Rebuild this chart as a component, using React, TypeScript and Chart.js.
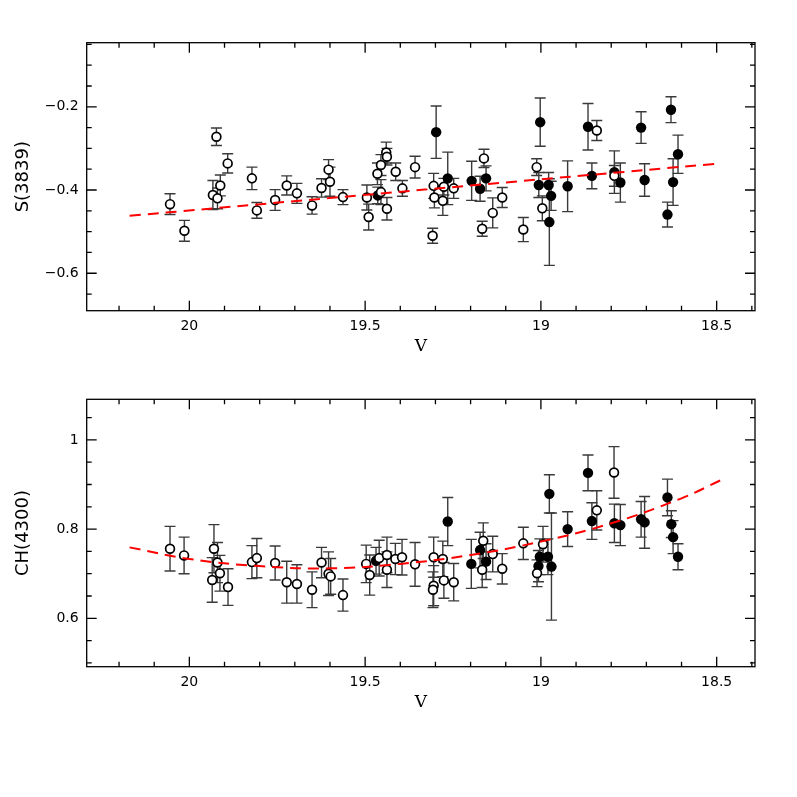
import React, { useEffect, useRef } from "react";
import { Chart, registerables } from "chart.js";
Chart.register(...registerables);

// ---------- data ----------
const X_MIN = 18.391;
const X_MAX = 20.292;
const X_TICKS = [20, 19.5, 19, 18.5];
const X_TITLE = "V";

const TOP_Y_MIN = -0.69;
const TOP_Y_MAX = -0.046;
const TOP_Y_TICKS = [-0.6, -0.4, -0.2];
const TOP_Y_TITLE = "S(3839)";

const BOT_Y_MIN = 0.4915;
const BOT_Y_MAX = 1.091;
const BOT_Y_TICKS = [0.6, 0.8, 1];
const BOT_Y_TITLE = "CH(4300)";

// S(3839) open symbols
const TOP_OPEN_V = [20.055, 20.014, 19.923, 19.891, 19.933, 19.912, 19.92, 19.822, 19.808, 19.756, 19.723, 19.694, 19.651, 19.624, 19.604, 19.6, 19.563, 19.495, 19.49, 19.465, 19.455, 19.455, 19.44, 19.438, 19.438, 19.413, 19.394, 19.358, 19.305, 19.303, 19.308, 19.279, 19.276, 19.248, 19.162, 19.167, 19.137, 19.11, 19.05, 19.012, 18.996, 18.841, 18.791];
const TOP_OPEN_S = [-0.434, -0.498, -0.272, -0.336, -0.412, -0.389, -0.42, -0.372, -0.449, -0.424, -0.389, -0.408, -0.437, -0.395, -0.351, -0.38, -0.417, -0.418, -0.465, -0.361, -0.405, -0.34, -0.31, -0.32, -0.445, -0.356, -0.396, -0.345, -0.39, -0.418, -0.51, -0.426, -0.392, -0.396, -0.324, -0.493, -0.455, -0.418, -0.495, -0.345, -0.444, -0.257, -0.366];
const TOP_OPEN_ERR = [0.025, 0.025, 0.021, 0.023, 0.035, 0.025, 0.025, 0.027, 0.019, 0.025, 0.023, 0.024, 0.021, 0.022, 0.024, 0.035, 0.018, 0.03, 0.031, 0.026, 0.03, 0.025, 0.025, 0.02, 0.027, 0.021, 0.019, 0.026, 0.03, 0.025, 0.018, 0.035, 0.02, 0.024, 0.022, 0.018, 0.036, 0.024, 0.029, 0.02, 0.03, 0.024, 0.025];

// S(3839) filled symbols
const TOP_FILL_V = [19.464, 19.298, 19.265, 19.197, 19.173, 19.156, 19.002, 19.006, 18.978, 18.971, 18.976, 18.924, 18.866, 18.855, 18.791, 18.774, 18.715, 18.705, 18.63, 18.61, 18.624, 18.64];
const TOP_FILL_S = [-0.413, -0.261, -0.372, -0.378, -0.397, -0.372, -0.237, -0.388, -0.388, -0.414, -0.477, -0.391, -0.248, -0.366, -0.357, -0.382, -0.25, -0.376, -0.207, -0.314, -0.381, -0.459];
const TOP_FILL_ERR = [0.02, 0.063, 0.063, 0.047, 0.03, 0.03, 0.058, 0.03, 0.03, 0.035, 0.104, 0.061, 0.056, 0.031, 0.051, 0.047, 0.038, 0.039, 0.031, 0.046, 0.056, 0.03];

// CH(4300) open symbols
const BOT_OPEN_V = [20.055, 20.015, 19.93, 19.92, 19.935, 19.913, 19.89, 19.822, 19.808, 19.756, 19.723, 19.694, 19.651, 19.624, 19.604, 19.598, 19.563, 19.497, 19.487, 19.46, 19.438, 19.438, 19.414, 19.395, 19.358, 19.305, 19.305, 19.307, 19.279, 19.276, 19.248, 19.164, 19.167, 19.137, 19.11, 19.05, 19.011, 18.994, 18.841, 18.792];
const BOT_OPEN_CH = [0.756, 0.741, 0.756, 0.725, 0.686, 0.701, 0.67, 0.726, 0.735, 0.724, 0.681, 0.677, 0.664, 0.725, 0.7, 0.694, 0.652, 0.722, 0.697, 0.735, 0.742, 0.709, 0.733, 0.737, 0.721, 0.737, 0.673, 0.664, 0.733, 0.685, 0.681, 0.774, 0.709, 0.744, 0.711, 0.768, 0.701, 0.766, 0.842, 0.927];
const BOT_OPEN_ERR = [0.05, 0.041, 0.054, 0.045, 0.05, 0.04, 0.041, 0.037, 0.044, 0.038, 0.047, 0.043, 0.04, 0.034, 0.049, 0.04, 0.036, 0.042, 0.045, 0.04, 0.04, 0.04, 0.035, 0.04, 0.049, 0.045, 0.045, 0.04, 0.04, 0.04, 0.042, 0.04, 0.04, 0.04, 0.034, 0.036, 0.03, 0.04, 0.044, 0.058];

// CH(4300) filled symbols
const BOT_FILL_V = [19.469, 19.265, 19.198, 19.173, 19.156, 18.976, 19.003, 19.007, 18.98, 18.97, 18.924, 18.866, 18.855, 18.791, 18.774, 18.715, 18.705, 18.64, 18.629, 18.624, 18.61];
const BOT_FILL_CH = [0.729, 0.817, 0.722, 0.753, 0.727, 0.879, 0.738, 0.717, 0.738, 0.716, 0.8, 0.926, 0.818, 0.813, 0.809, 0.822, 0.815, 0.871, 0.811, 0.782, 0.738];
const BOT_FILL_ERR = [0.03, 0.054, 0.055, 0.04, 0.04, 0.043, 0.04, 0.035, 0.04, 0.12, 0.039, 0.04, 0.041, 0.043, 0.046, 0.04, 0.058, 0.041, 0.03, 0.037, 0.029];

// fitted relations (red dashed)
const FIT_TOP_V = [20.17, 18.49];
const FIT_TOP_S = [-0.462, -0.336];
const FIT_BOT_V = [20.17, 20.0, 19.8, 19.6, 19.4, 19.2, 19.0, 18.8, 18.6, 18.49];
const FIT_BOT_CH = [0.759, 0.733, 0.717, 0.712, 0.722, 0.742, 0.772, 0.813, 0.869, 0.909];

// ---------- helpers ----------
const pts = (xs: number[], ys: number[]) => xs.map((x, i) => ({ x, y: ys[i] }));
const fmtNum = (v: number) => {
  const r = Math.round(v * 100) / 100;
  const s = String(Math.abs(r));
  return (r < 0 ? "\u2212" : "") + s;
};

const TICK_FONT = "DejaVu Sans";

function makePlugin(yTitle: string, yMinor: number, yMajor: number) {
  return {
    id: "frameAndErrors",
    beforeDatasetsDraw(chart: any) {
      const ctx = chart.ctx;
      const xs = chart.scales.x;
      const ys = chart.scales.y;
      ctx.save();
      ctx.strokeStyle = "#3a3a3a";
      ctx.lineWidth = 1.4;
      chart.data.datasets.forEach((ds: any) => {
        if (!ds.errors) return;
        ds.data.forEach((p: any, i: number) => {
          const e = ds.errors[i];
          const px = xs.getPixelForValue(p.x);
          const y1 = ys.getPixelForValue(p.y - e);
          const y2 = ys.getPixelForValue(p.y + e);
          ctx.beginPath();
          ctx.moveTo(px, y1);
          ctx.lineTo(px, y2);
          ctx.moveTo(px - 5.5, y1);
          ctx.lineTo(px + 5.5, y1);
          ctx.moveTo(px - 5.5, y2);
          ctx.lineTo(px + 5.5, y2);
          ctx.stroke();
        });
      });
      ctx.restore();
    },
    afterDraw(chart: any) {
      const ctx = chart.ctx;
      const a = chart.chartArea;
      const xs = chart.scales.x;
      const ys = chart.scales.y;
      ctx.save();
      ctx.strokeStyle = "#000";
      ctx.lineWidth = 1.3;
      ctx.strokeRect(a.left, a.top, a.right - a.left, a.bottom - a.top);
      ctx.beginPath();
      // x ticks
      const xStart = Math.ceil(X_MIN / 0.1 - 1e-6);
      const xEnd = Math.floor(X_MAX / 0.1 + 1e-6);
      for (let k = xStart; k <= xEnd; k++) {
        const v = k * 0.1;
        const major = Math.abs(v / 0.5 - Math.round(v / 0.5)) < 1e-6;
        const len = major ? 10 : 5;
        const px = xs.getPixelForValue(v);
        ctx.moveTo(px, a.bottom);
        ctx.lineTo(px, a.bottom - len);
        ctx.moveTo(px, a.top);
        ctx.lineTo(px, a.top + len);
      }
      // y ticks
      const yStart = Math.ceil(ys.min / yMinor - 1e-6);
      const yEnd = Math.floor(ys.max / yMinor + 1e-6);
      for (let k = yStart; k <= yEnd; k++) {
        const v = k * yMinor;
        const major = Math.abs(v / yMajor - Math.round(v / yMajor)) < 1e-6;
        const len = major ? 10 : 5;
        const py = ys.getPixelForValue(v);
        ctx.moveTo(a.left, py);
        ctx.lineTo(a.left + len, py);
        ctx.moveTo(a.right, py);
        ctx.lineTo(a.right - len, py);
      }
      ctx.stroke();
      // titles
      ctx.fillStyle = "#000";
      ctx.font = "17px 'DejaVu Serif'";
      ctx.textAlign = "center";
      ctx.textBaseline = "middle";
      ctx.fillText(X_TITLE, (a.left + a.right) / 2, a.bottom + 36);
      ctx.translate(23.5, (a.top + a.bottom) / 2);
      ctx.rotate(-Math.PI / 2);
      ctx.font = "18px '" + TICK_FONT + "'";
      ctx.fillText(yTitle, 0, 0);
      ctx.restore();
    },
  };
}

function buildConfig(opts: {
  open: { x: number; y: number }[];
  openErr: number[];
  fill: { x: number; y: number }[];
  fillErr: number[];
  fit: { x: number; y: number }[];
  yMin: number;
  yMax: number;
  yTicks: number[];
  yTitle: string;
  padTop: number;
  xAxisHeight: number;
}) {
  return {
    type: "scatter" as const,
    data: {
      datasets: [
        {
          type: "line",
          data: opts.fit,
          borderColor: "#ff0000",
          borderWidth: 2,
          borderDash: [11, 7],
          pointRadius: 0,
          tension: 0.4,
          fill: false,
          showLine: true,
        },
        {
          data: opts.open,
          errors: opts.openErr,
          pointRadius: 4.4,
          pointBorderWidth: 1.7,
          pointBorderColor: "#000",
          pointBackgroundColor: "#fff",
          showLine: false,
        },
        {
          data: opts.fill,
          errors: opts.fillErr,
          pointRadius: 5.2,
          pointBorderWidth: 0,
          pointBackgroundColor: "#000",
          showLine: false,
        },
      ],
    },
    options: {
      animation: false,
      responsive: false,
      devicePixelRatio: 1,
      events: [],
      layout: { padding: { left: 0, right: 42, top: opts.padTop, bottom: 0 } },
      plugins: { legend: { display: false }, tooltip: { enabled: false } },
      scales: {
        x: {
          type: "linear",
          reverse: true,
          min: X_MIN,
          max: X_MAX,
          grid: { display: false, drawTicks: false },
          border: { display: false },
          afterBuildTicks: (s: any) => {
            s.ticks = X_TICKS.map((v) => ({ value: v }));
          },
          afterFit: (s: any) => {
            s.height = opts.xAxisHeight;
          },
          ticks: {
            padding: 7,
            maxRotation: 0,
            autoSkip: false,
            color: "#000",
            font: { family: TICK_FONT, size: 14 },
            callback: (v: any) => fmtNum(Number(v)),
          },
        },
        y: {
          type: "linear",
          min: opts.yMin,
          max: opts.yMax,
          grid: { display: false, drawTicks: false },
          border: { display: false },
          afterBuildTicks: (s: any) => {
            s.ticks = opts.yTicks.map((v) => ({ value: v }));
          },
          afterFit: (s: any) => {
            s.width = 86.7;
          },
          ticks: {
            padding: 8,
            autoSkip: false,
            color: "#000",
            font: { family: TICK_FONT, size: 14 },
            callback: (v: any) => fmtNum(Number(v)),
          },
        },
      },
    },
    plugins: [makePlugin(opts.yTitle, 0.05, 0.2)],
  };
}

function Panel(props: { cfg: any; top: number; height: number }) {
  const ref = useRef<HTMLCanvasElement | null>(null);
  useEffect(() => {
    if (!ref.current) return;
    const chart = new Chart(ref.current, props.cfg);
    return () => chart.destroy();
  }, []);
  return (
    <canvas
      ref={ref}
      width={797}
      height={props.height}
      style={{ position: "absolute", left: 0, top: props.top, width: 797, height: props.height, display: "block" }}
    />
  );
}

export default function App() {
  const topCfg = buildConfig({
    open: pts(TOP_OPEN_V, TOP_OPEN_S),
    openErr: TOP_OPEN_ERR,
    fill: pts(TOP_FILL_V, TOP_FILL_S),
    fillErr: TOP_FILL_ERR,
    fit: pts(FIT_TOP_V, FIT_TOP_S),
    yMin: TOP_Y_MIN,
    yMax: TOP_Y_MAX,
    yTicks: TOP_Y_TICKS,
    yTitle: TOP_Y_TITLE,
    padTop: 42.7,
    xAxisHeight: 380 - 310.7,
  });
  const botCfg = buildConfig({
    open: pts(BOT_OPEN_V, BOT_OPEN_CH),
    openErr: BOT_OPEN_ERR,
    fill: pts(BOT_FILL_V, BOT_FILL_CH),
    fillErr: BOT_FILL_ERR,
    fit: pts(FIT_BOT_V, FIT_BOT_CH),
    yMin: BOT_Y_MIN,
    yMax: BOT_Y_MAX,
    yTicks: BOT_Y_TICKS,
    yTitle: BOT_Y_TITLE,
    padTop: 399.3 - 360,
    xAxisHeight: 400 - (666.7 - 360),
  });
  return (
    <div style={{ position: "fixed", left: 0, top: 0, width: 797, height: 797, background: "#fff", overflow: "hidden" }}>
      <Panel cfg={topCfg} top={0} height={380} />
      <Panel cfg={botCfg} top={360} height={400} />
    </div>
  );
}
